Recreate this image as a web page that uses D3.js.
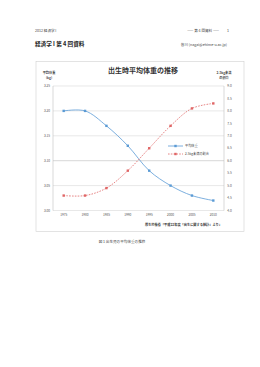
<!DOCTYPE html>
<html>
<head>
<meta charset="utf-8">
<script src="https://cdn.jsdelivr.net/npm/d3@7"></script>
<style>
  body { margin: 0; background: #fff; }
  svg { display: block; font-family: "Noto Sans CJK JP", "Noto Sans", sans-serif; }
</style>
</head>
<body>
<div id="chart"></div>
<script>
// data
var years = ["1975", "1980", "1985", "1990", "1995", "2000", "2005", "2010"];
var weight = [3.20, 3.20, 3.17, 3.13, 3.08, 3.05, 3.03, 3.02];
var lowRate = [4.6, 4.6, 4.9, 5.6, 6.5, 7.4, 8.1, 8.3];
var leftTicks = [3.00, 3.05, 3.10, 3.15, 3.20, 3.25];
var rightTicks = [4.0, 4.5, 5.0, 5.5, 6.0, 6.5, 7.0, 7.5, 8.0, 8.5, 9.0];

var svg = d3.select("#chart").append("svg")
    .attr("width", 260)
    .attr("height", 367);

// page header
svg.append("text").attr("x", 35).attr("y", 31.5)
    .attr("font-size", 3.6).attr("fill", "#444").text("2012 経済学 I");
svg.append("text").attr("x", 219).attr("y", 31.5).attr("text-anchor", "end")
    .attr("font-size", 3.6).attr("fill", "#444").text("—— 第 4 回資料 ——");
svg.append("text").attr("x", 227).attr("y", 31.5)
    .attr("font-size", 3.6).attr("fill", "#444").text("1");
svg.append("text").attr("x", 35).attr("y", 46)
    .attr("font-size", 5.6).attr("font-weight", "bold").attr("fill", "#222")
    .text("経済学 I 第 4 回資料");
svg.append("text").attr("x", 227).attr("y", 45.5).attr("text-anchor", "end")
    .attr("font-size", 3.6).attr("fill", "#444").text("皆川 (nagai@ehime-u.ac.jp)");

// chart frame
svg.append("rect").attr("x", 36).attr("y", 61.5).attr("width", 208).attr("height", 170)
    .attr("fill", "#fff").attr("stroke", "#d0d0d0").attr("stroke-width", 0.6);

var x = d3.scaleBand().domain(years).range([53, 224]);
var yL = d3.scaleLinear().domain([3.00, 3.25]).range([210.5, 86]);
var yR = d3.scaleLinear().domain([4.0, 9.0]).range([210.5, 86]);
var cx = function(d, i) { return x(years[i]) + x.bandwidth() / 2; };

// grid lines
svg.append("g").selectAll("line").data(leftTicks).join("line")
    .attr("x1", 53).attr("x2", 224)
    .attr("y1", function(d) { return yL(d); })
    .attr("y2", function(d) { return yL(d); })
    .attr("stroke", function(d) { return d === 3.10 ? "#bdbdbd" : "#d9d9d9"; })
    .attr("stroke-width", 0.6);

// axis lines
svg.append("line").attr("x1", 53).attr("x2", 53).attr("y1", 86).attr("y2", 210.5)
    .attr("stroke", "#bfbfbf").attr("stroke-width", 0.6);
svg.append("line").attr("x1", 224).attr("x2", 224).attr("y1", 86).attr("y2", 210.5)
    .attr("stroke", "#bfbfbf").attr("stroke-width", 0.6);

// left ticks
svg.append("g").selectAll("text").data(leftTicks).join("text")
    .attr("x", 47).attr("y", function(d) { return yL(d) + 1.2; })
    .attr("text-anchor", "middle").attr("font-size", 3.2).attr("fill", "#555")
    .text(function(d) { return d.toFixed(2); });

// right ticks
svg.append("g").selectAll("text").data(rightTicks).join("text")
    .attr("x", 229.5).attr("y", function(d) { return yR(d) + 1.2; })
    .attr("text-anchor", "middle").attr("font-size", 3.2).attr("fill", "#555")
    .text(function(d) { return d.toFixed(1); });

// x labels
svg.append("g").selectAll("text").data(years).join("text")
    .attr("x", function(d) { return x(d) + x.bandwidth() / 2; })
    .attr("y", 216)
    .attr("text-anchor", "middle").attr("font-size", 3.2).attr("fill", "#555")
    .text(function(d) { return d; });

// axis titles
svg.append("text").attr("x", 49).attr("y", 74).attr("text-anchor", "middle")
    .attr("font-size", 3.2).attr("font-weight", "bold").attr("fill", "#444").text("平均体重");
svg.append("text").attr("x", 49).attr("y", 78.5).attr("text-anchor", "middle")
    .attr("font-size", 3.2).attr("font-weight", "bold").attr("fill", "#444").text("(kg)");
svg.append("text").attr("x", 224).attr("y", 74).attr("text-anchor", "middle")
    .attr("font-size", 3.2).attr("font-weight", "bold").attr("fill", "#444").text("2.5kg未満");
svg.append("text").attr("x", 224).attr("y", 78.5).attr("text-anchor", "middle")
    .attr("font-size", 3.2).attr("font-weight", "bold").attr("fill", "#444").text("の割合");

// chart title
svg.append("text").attr("x", 143).attr("y", 72.5).attr("text-anchor", "middle")
    .attr("font-size", 7).attr("font-weight", "bold").attr("fill", "#333")
    .text("出生時平均体重の推移");

// lines
var lineL = d3.line()
    .x(cx)
    .y(function(d) { return yL(d); })
    .curve(d3.curveCatmullRom);
var lineR = d3.line()
    .x(cx)
    .y(function(d) { return yR(d); })
    .curve(d3.curveCatmullRom);

svg.append("path").datum(weight).attr("d", lineL)
    .attr("fill", "none").attr("stroke", "#5b9bd5").attr("stroke-width", 0.8);
svg.append("path").datum(lowRate).attr("d", lineR)
    .attr("fill", "none").attr("stroke", "#e06666").attr("stroke-width", 0.8)
    .attr("stroke-dasharray", "1.6,1.2");

svg.append("g").selectAll("rect").data(weight).join("rect")
    .attr("x", function(d, i) { return cx(d, i) - 1.2; })
    .attr("y", function(d) { return yL(d) - 1.2; })
    .attr("width", 2.4).attr("height", 2.4)
    .attr("fill", "#5b9bd5");
svg.append("g").selectAll("rect").data(lowRate).join("rect")
    .attr("x", function(d, i) { return cx(d, i) - 1.2; })
    .attr("y", function(d) { return yR(d) - 1.2; })
    .attr("width", 2.4).attr("height", 2.4)
    .attr("fill", "#e06666");

// legend
var legend = svg.append("g");
legend.append("line").attr("x1", 168).attr("x2", 183).attr("y1", 146).attr("y2", 146)
    .attr("stroke", "#5b9bd5").attr("stroke-width", 0.8);
legend.append("rect").attr("x", 174.3).attr("y", 144.8).attr("width", 2.4).attr("height", 2.4)
    .attr("fill", "#5b9bd5");
legend.append("text").attr("x", 185).attr("y", 147.2).attr("font-size", 3.2).attr("fill", "#444")
    .text("平均体重");
legend.append("line").attr("x1", 168).attr("x2", 183).attr("y1", 154).attr("y2", 154)
    .attr("stroke", "#e06666").attr("stroke-width", 0.8).attr("stroke-dasharray", "1.6,1.2");
legend.append("rect").attr("x", 174.3).attr("y", 152.8).attr("width", 2.4).attr("height", 2.4)
    .attr("fill", "#e06666");
legend.append("text").attr("x", 185).attr("y", 155.2).attr("font-size", 3.2).attr("fill", "#444")
    .text("2.5kg未満の割合");

// source
svg.append("text").attr("x", 222).attr("y", 225.5).attr("text-anchor", "end")
    .attr("font-size", 3.2).attr("font-weight", "bold").attr("fill", "#333")
    .text("厚生労働省「平成22年度「出生に関する統計」より」");

// caption
svg.append("text").attr("x", 122).attr("y", 243).attr("text-anchor", "middle")
    .attr("font-size", 3.6).attr("fill", "#444")
    .text("図 1 出生児の平均体重の推移");
</script>
</body>
</html>
